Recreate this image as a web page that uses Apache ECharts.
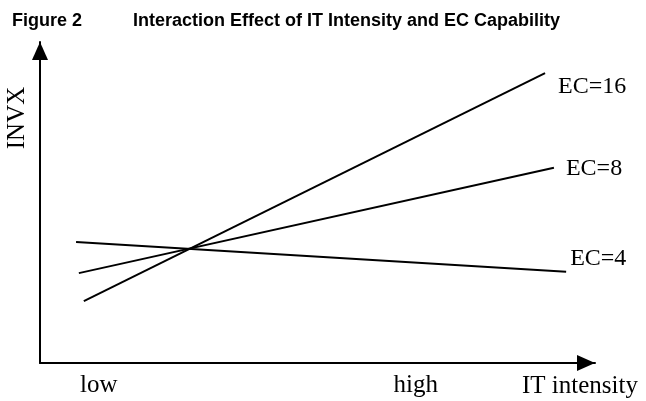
<!DOCTYPE html>
<html>
<head>
<meta charset="utf-8">
<script src="https://cdn.jsdelivr.net/npm/echarts@6/dist/echarts.min.js"></script>
<style>
  html, body { margin: 0; padding: 0; background: #fff; }
  #chart { width: 646px; height: 401px; }
</style>
</head>
<body>
<div id="chart"></div>
<script>
// interaction lines, x = IT intensity (0..100), y = INVX (0..100)
const seriesNames = ["EC=16", "EC=8", "EC=4"];
const ec16 = [[7.9, 19.3], [91.0, 90.3]];
const ec8 = [[7.0, 28.0], [92.6, 60.8]];
const ec4 = [[6.5, 37.7], [94.8, 28.4]];
const xTickValues = [10.6, 67.7];
const xTickLabels = ["low", "high"];

const serif = "'Liberation Serif', 'Times New Roman', serif";
const sans = "'Liberation Sans', Arial, sans-serif";

// where each end label sits relative to its line end
const labelOffsets = [[5, 14], [4, 1], [-4, -13]];

const chart = echarts.init(document.getElementById("chart"), null, { renderer: "canvas" });

function lineSeries(name, data, i) {
  return {
    name,
    type: "line",
    data,
    showSymbol: false,
    symbol: "none",
    lineStyle: { color: "#000", width: 2 },
    endLabel: {
      show: true,
      formatter: name,
      offset: labelOffsets[i],
      color: "#000",
      fontFamily: serif,
      fontSize: 24,
    },
    silent: true,
  };
}

const arrowLine = {
  show: true,
  symbol: ["none", "triangle"],
  symbolSize: [16, 18],
  symbolOffset: [0, -9],
  lineStyle: { color: "#000", width: 2 },
};

chart.setOption({
  animation: false,
  backgroundColor: "#fff",
  grid: { left: 40, right: 51, top: 42, bottom: 38 },
  xAxis: {
    type: "value",
    min: 0,
    max: 100,
    axisLine: arrowLine,
    axisTick: { show: false },
    splitLine: { show: false },
    axisLabel: {
      customValues: xTickValues,
      formatter: (v) => xTickLabels[xTickValues.indexOf(v)] ?? "",
      color: "#000",
      fontFamily: serif,
      fontSize: 25,
      margin: 10,
    },
  },
  yAxis: {
    type: "value",
    min: 0,
    max: 100,
    axisLine: arrowLine,
    axisTick: { show: false },
    splitLine: { show: false },
    axisLabel: { show: false },
  },
  graphic: [
    {
      type: "text",
      x: 12,
      y: 20.7,
      style: { text: "Figure 2", fill: "#000", font: "bold 18px " + sans, verticalAlign: "middle" },
    },
    {
      type: "text",
      x: 133,
      y: 20.7,
      style: {
        text: "Interaction Effect of IT Intensity and EC Capability",
        fill: "#000",
        font: "bold 18px " + sans,
        verticalAlign: "middle",
      },
    },
    {
      type: "text",
      x: 17,
      y: 118,
      rotation: Math.PI / 2,
      style: { text: "INVX", fill: "#000", font: "25px " + serif, align: "center", verticalAlign: "middle" },
    },
    {
      type: "text",
      x: 580,
      y: 386,
      style: { text: "IT intensity", fill: "#000", font: "25px " + serif, align: "center", verticalAlign: "middle" },
    },
  ],
  series: [
    lineSeries(seriesNames[0], ec16, 0),
    lineSeries(seriesNames[1], ec8, 1),
    lineSeries(seriesNames[2], ec4, 2),
  ],
});
</script>
</body>
</html>
